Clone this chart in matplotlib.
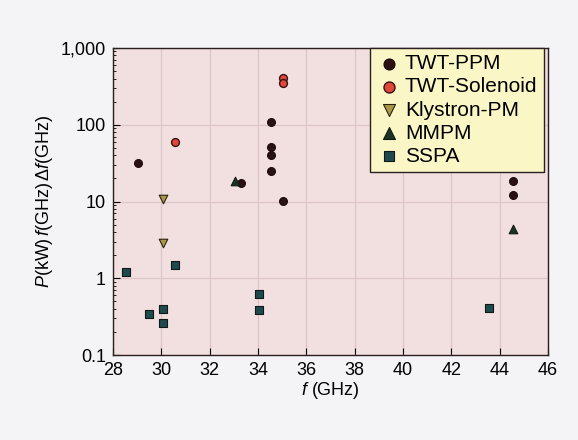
import numpy as np
import matplotlib
matplotlib.use("Agg")
from matplotlib import pyplot as plt

plt.rcParams['font.family'] = ['Liberation Sans', 'DejaVu Sans']
plt.rcParams['mathtext.fontset'] = 'custom'
plt.rcParams['mathtext.it'] = 'Liberation Sans:italic'
plt.rcParams['mathtext.rm'] = 'Liberation Sans'

# data
ppm_f = [29.05, 33.3, 34.55, 34.55, 34.55, 34.55, 35.05, 44.55, 44.55]
ppm_v = [32, 17.5, 110, 52, 40, 25, 10.3, 18.6, 12.3]

sol_f = [30.55, 35.05, 35.05]
sol_v = [59, 410, 345]

kly_f = [30.05, 30.05]
kly_v = [10.7, 2.9]

mmpm_f = [33.05, 44.55]
mmpm_v = [18.6, 4.45]

sspa_f = [28.55, 30.55, 29.5, 30.05, 30.05, 34.05, 34.05, 43.55]
sspa_v = [1.21, 1.47, 0.34, 0.40, 0.26, 0.62, 0.39, 0.41]

xticks = [28, 30, 32, 34, 36, 38, 40, 42, 44, 46]
yticks = [0.1, 1, 10, 100, 1000]
ylabels = ['0.1', '1', '10', '100', '1,000']

fig = plt.figure(figsize=(5.78, 4.4), dpi=100)
fig.patch.set_facecolor('#f4f3f5')
ax = fig.add_axes([0.1955, 0.193, 0.7525, 0.698])
ax.set_facecolor('#f2dfe0')

ax.scatter(ppm_f, ppm_v, s=32, marker='o', color='#2b1212', edgecolor='#1a0a0a',
           linewidth=0.8, label='TWT-PPM', zorder=3)
ax.scatter(sol_f, sol_v, s=32, marker='o', color='#e0483a', edgecolor='#3a1010',
           linewidth=1.0, label='TWT-Solenoid', zorder=3)
ax.scatter(kly_f, kly_v, s=38, marker='v', color='#a8984a', edgecolor='#2a2010',
           linewidth=0.8, label='Klystron-PM', zorder=3)
ax.scatter(mmpm_f, mmpm_v, s=38, marker='^', color='#1c3322', edgecolor='#101a10',
           linewidth=0.8, label='MMPM', zorder=3)
ax.scatter(sspa_f, sspa_v, s=30, marker='s', color='#1f4a4c', edgecolor='#101818',
           linewidth=0.8, label='SSPA', zorder=3)

ax.set_yscale('log')
ax.set_xlim(28, 46)
ax.set_ylim(0.1, 1000)
ax.set_xticks(xticks)
ax.set_yticks(yticks)
ax.set_yticklabels(ylabels)
ax.tick_params(axis='both', which='major', direction='in', length=5, labelsize=13, pad=5)
ax.tick_params(axis='y', which='minor', direction='in', length=2.5)
ax.grid(True, which='major', color='#dcc6c8', linewidth=0.9)
ax.set_axisbelow(True)
for sp in ax.spines.values():
    sp.set_color('#2a2020')
    sp.set_linewidth(1.0)

ax.set_xlabel('$f$ (GHz)', fontsize=13, labelpad=1)
ax.set_ylabel('$P$(kW)$\\,f$(GHz)$\\,\\Delta f$(GHz)', fontsize=13, labelpad=4)

leg = ax.legend(loc='upper right', frameon=True, fancybox=False, fontsize=15,
                handletextpad=0.15, borderpad=0.3, labelspacing=0.2,
                handlelength=1.2, borderaxespad=0.0, markerscale=1.4,
                bbox_to_anchor=(0.99, 1.0))
leg.get_frame().set_facecolor('#fbf6c6')
leg.get_frame().set_edgecolor('#2a2020')
leg.get_frame().set_alpha(1.0)
leg.get_frame().set_linewidth(1.0)

fig.savefig('out.png', dpi=100, facecolor=fig.get_facecolor())
